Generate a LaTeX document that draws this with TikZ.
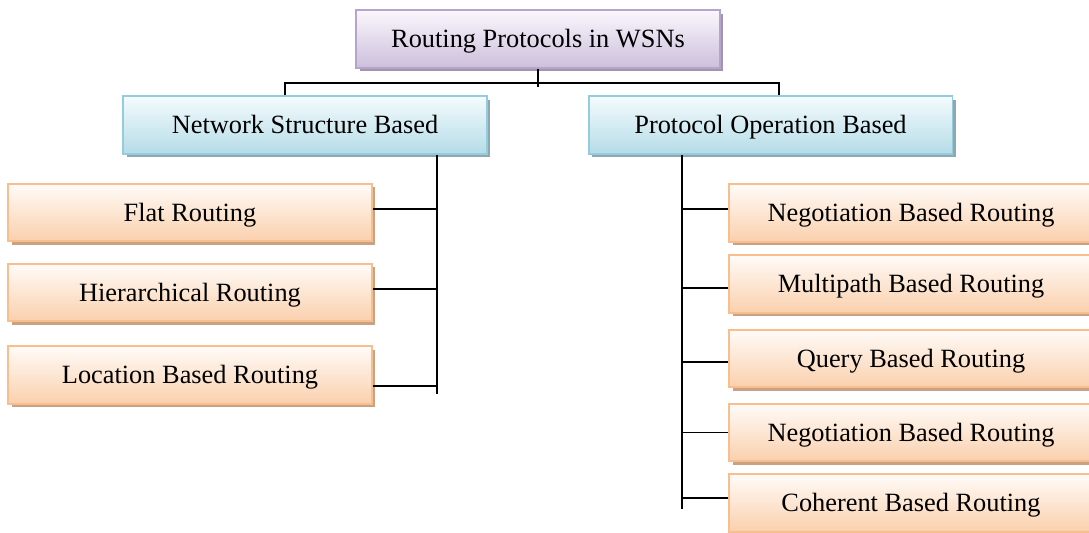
\documentclass[tikz,border=0pt]{standalone}
\usepackage{fontspec}
\setmainfont{Liberation Serif}
\usetikzlibrary{positioning, shadows}

\definecolor{rootTop}{HTML}{FAF7FC}
\definecolor{rootBot}{HTML}{CDBFDC}
\definecolor{rootLine}{HTML}{B7A3CD}
\definecolor{rootShade}{HTML}{A097AB}
\definecolor{grpTop}{HTML}{F4FBFD}
\definecolor{grpBot}{HTML}{B5DCE7}
\definecolor{grpLine}{HTML}{93CDDD}
\definecolor{grpShade}{HTML}{8FA8B0}
\definecolor{leafTop}{HTML}{FFFBF8}
\definecolor{leafBot}{HTML}{FAD0AD}
\definecolor{leafLine}{HTML}{F9BE8E}
\definecolor{leafShade}{HTML}{C9A183}

\tikzset{
	box/.style={draw, line width=1.1pt, minimum width=7.28cm, minimum height=1.15cm,
		inner sep=0pt, text height=9.9pt, text depth=0pt, font=\fontsize{15}{18}\selectfont},
	rootbox/.style={box, draw=rootLine, top color=rootTop, bottom color=rootBot,
		general shadow={shadow xshift=0.07cm, shadow yshift=-0.07cm, fill=rootShade}},
	grpbox/.style={box, draw=grpLine, top color=grpTop, bottom color=grpBot,
		general shadow={shadow xshift=0.07cm, shadow yshift=-0.07cm, fill=grpShade}},
	leafbox/.style={box, draw=leafLine, top color=leafTop, bottom color=leafBot,
		general shadow={shadow xshift=0.07cm, shadow yshift=-0.07cm, fill=leafShade}},
	link/.style={draw=black, line width=1pt}
}

\begin{document}
\begin{tikzpicture}[x=0.02cm, y=-0.02cm]
	
	\useasboundingbox (0,0) rectangle (1089,533);
	
	% -------------------------------------------------------------------------
	% 1. Root and the two groups
	% -------------------------------------------------------------------------
	\node[rootbox] (root) at (538,39) {Routing Protocols in WSNs};
	\node[grpbox]  (nsb)  at (305,125) {Network Structure Based};
	\node[grpbox]  (pob)  at (770.5,125) {Protocol Operation Based};
	
	\draw[link] (root.south) -- ++(0,18);
	\draw[link] ([xshift=-0.4cm]nsb.north) -- ++(0,-12) -| ([xshift=0.17cm]pob.north);
	
	% -------------------------------------------------------------------------
	% 2. Network structure based routing
	% -------------------------------------------------------------------------
	\node[leafbox] (flat) at (190,212.5) {Flat Routing};
	\node[leafbox] (hier) at (190,292.5) {Hierarchical Routing};
	\node[leafbox] (loc)  at (190,375)   {Location Based Routing};
	
	\coordinate (ltrunk) at ([xshift=2.64cm]nsb.south);
	\draw[link] (ltrunk) -- ++(0,239);
	\foreach \n/\s in {flat/0.07, hier/0.07, loc/-0.22} {
		\path ([yshift=\s cm]\n.east) coordinate (b);
		\draw[link] (b) -- (b -| ltrunk);
	}
	
	% -------------------------------------------------------------------------
	% 3. Protocol operation based routing
	% -------------------------------------------------------------------------
	\node[leafbox] (nego)  at (911,213)   {Negotiation Based Routing};
	\node[leafbox] (multi) at (911,284)   {Multipath Based Routing};
	\node[leafbox] (query) at (911,358.5) {Query Based Routing};
	\node[leafbox] (negob) at (911,432.5) {Negotiation Based Routing};
	\node[leafbox] (coher) at (911,503)   {Coherent Based Routing};
	
	\coordinate (rtrunk) at ([xshift=-1.77cm]pob.south);
	\draw[link] (rtrunk) -- ++(0,354);
	\foreach \n/\s in {nego/0.08, multi/-0.08, query/-0.07, negob/0, coher/0.1} {
		\path ([yshift=\s cm]\n.west) coordinate (b);
		\draw[link] (b) -- (b -| rtrunk);
	}
	
\end{tikzpicture}
\end{document}
